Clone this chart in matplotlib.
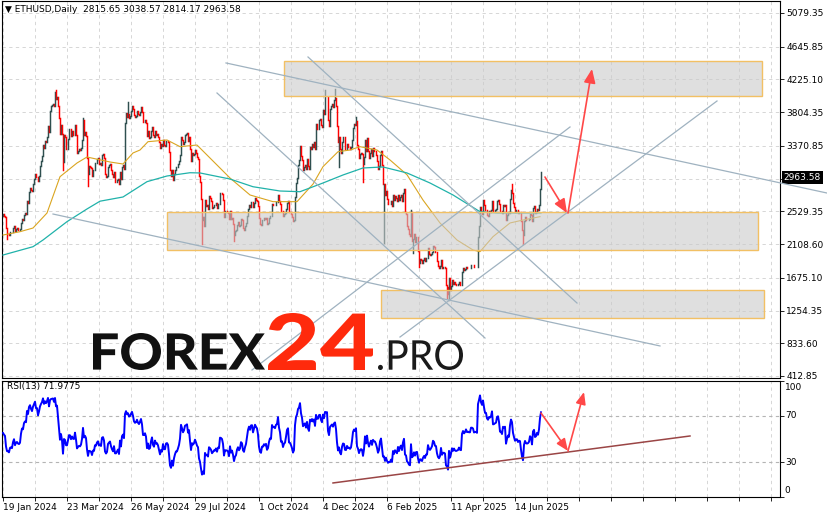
import numpy as np
import matplotlib.pyplot as plt
from matplotlib.patches import Rectangle, PathPatch
from matplotlib.textpath import TextPath
from matplotlib.font_manager import FontProperties
from matplotlib.transforms import Affine2D

W, H = 827, 519

# ETHUSD daily closes; bar 0 = 19 Jan 2024
warmup = [2352, 2355, 2210, 2270, 2268, 2240, 2220, 2330, 2345, 2585, 2615, 2525,
          2575, 2470, 2515, 2585, 2530, 2470]  # 1-18 Jan 2024, only for RSI
c_2024_01 = [2490, 2470, 2455, 2315, 2240, 2235, 2220, 2265, 2270, 2260, 2315, 2345, 2280]
c_2024_02 = [2305, 2310, 2295, 2290, 2300, 2375, 2425, 2420, 2485, 2505,
             2500, 2660, 2640, 2780, 2825, 2800, 2785, 2880, 2945, 3015,
             2970, 2970, 2920, 2990, 3110, 3180, 3240, 3385, 3340]
c_2024_03 = [3435, 3420, 3490, 3630, 3555, 3815, 3880, 3895, 3910, 3880,
             4065, 3980, 4005, 3880, 3735, 3525, 3645, 3520, 3160, 3515,
             3490, 3335, 3330, 3455, 3590, 3585, 3495, 3560, 3510, 3505, 3645]
c_2024_04 = [3505, 3280, 3310, 3330, 3320, 3350, 3450, 3700, 3505, 3545,
             3500, 3220, 3005, 3110, 3100, 3085, 2985, 3065, 3055, 3155,
             3145, 3200, 3220, 3140, 3155, 3130, 3255, 3265, 3215, 3015]
c_2024_05 = [2970, 2990, 3100, 3120, 3135, 3060, 3010, 2975, 3035, 2910,
             2910, 2930, 2950, 2880, 3035, 2945, 3095, 3120, 3070, 3665,
             3790, 3740, 3780, 3730, 3750, 3825, 3890, 3840, 3765, 3745, 3760]
c_2024_06 = [3815, 3780, 3765, 3810, 3865, 3810, 3680, 3680, 3705, 3665,
             3500, 3560, 3470, 3480, 3565, 3620, 3510, 3480, 3560, 3515,
             3520, 3490, 3420, 3350, 3395, 3370, 3450, 3380, 3375, 3435]
c_2024_07 = [3440, 3420, 3295, 3060, 2990, 3065, 2930, 3015, 3065, 3100,
             3100, 3135, 3175, 3255, 3490, 3445, 3390, 3425, 3510, 3520,
             3535, 3440, 3480, 3335, 3175, 3275, 3250, 3270, 3320, 3280, 3230]
c_2024_08 = [3205, 2990, 2905, 2690, 2420, 2460, 2340, 2680, 2600, 2610,
             2555, 2725, 2700, 2660, 2570, 2590, 2615, 2610, 2640, 2575,
             2630, 2620, 2770, 2765, 2750, 2680, 2460, 2530, 2530, 2525, 2510]
c_2024_09 = [2425, 2540, 2425, 2450, 2370, 2225, 2275, 2295, 2360, 2390,
             2340, 2360, 2435, 2420, 2315, 2290, 2340, 2375, 2465, 2560,
             2615, 2580, 2650, 2655, 2580, 2635, 2695, 2675, 2660, 2600]
c_2024_10 = [2450, 2365, 2350, 2415, 2415, 2440, 2425, 2440, 2370, 2385,
             2440, 2475, 2470, 2630, 2610, 2615, 2605, 2645, 2650, 2745,
             2665, 2625, 2530, 2535, 2470, 2500, 2510, 2565, 2640, 2660, 2520]
c_2024_11 = [2515, 2490, 2455, 2400, 2420, 2720, 2895, 2960, 3130, 3185,
             3370, 3245, 3185, 3060, 3100, 3130, 3070, 3205, 3110, 3070,
             3355, 3330, 3395, 3360, 3415, 3325, 3650, 3590, 3590, 3705]
c_2024_12 = [3715, 3645, 3615, 3835, 3785, 4000, 3995, 4000, 3710, 3630,
             3840, 3880, 3910, 3875, 3960, 3985, 3885, 3630, 3420, 3480,
             3330, 3280, 3420, 3490, 3480, 3335, 3330, 3400, 3355, 3360, 3335]
c_2025_01 = [3355, 3450, 3605, 3655, 3635, 3685, 3380, 3325, 3220, 3265,
             3280, 3270, 3135, 3225, 3450, 3305, 3470, 3310, 3215, 3285,
             3335, 3240, 3340, 3310, 3305, 3255, 3180, 3070, 3110, 3250, 3300]
c_2025_02 = [3125, 2875, 2880, 2735, 2785, 2685, 2620, 2630, 2630, 2660,
             2600, 2740, 2675, 2725, 2695, 2665, 2745, 2670, 2720, 2740,
             2665, 2765, 2815, 2515, 2495, 2335, 2300, 2235]
c_2025_03 = [2215, 2520, 2150, 2170, 2240, 2140, 2200, 2205, 2020, 1865,
             1920, 1910, 1865, 1910, 1935, 1885, 1930, 1930, 2055, 1985,
             1965, 1985, 2010, 2080, 2065, 2010, 2005, 1895, 1830, 1805, 1825]
c_2025_04 = [1905, 1795, 1815, 1815, 1805, 1580, 1555, 1470, 1670, 1520,
             1570, 1645, 1595, 1625, 1590, 1580, 1585, 1590, 1615, 1585,
             1580, 1755, 1795, 1770, 1785, 1820, 1795, 1800, 1795, 1795]
c_2025_05 = [1840, 1840, 1835, 1810, 1815, 1815, 1810, 2205, 2345, 2580,
             2515, 2490, 2680, 2610, 2545, 2545, 2485, 2470, 2530, 2525,
             2550, 2665, 2530, 2535, 2550, 2560, 2665, 2680, 2630, 2530, 2530]
c_2025_06 = [2505, 2605, 2595, 2610, 2420, 2480, 2525, 2510, 2685, 2800,
             2770, 2640, 2580, 2525, 2545, 2545, 2510, 2525, 2520, 2410,
             2295, 2225, 2400, 2455, 2420, 2415, 2420, 2435, 2500, 2485]
c_2025_07 = [2405, 2570, 2595, 2510, 2520, 2565, 2545, 2615, 2815.65, 2963.58]

# notable wicks (bar -> price)
wick_low = {4: 2170, 60: 3060, 85: 2850, 199: 2110, 231: 2150, 336: 3100, 360: 2910,
            381: 2120, 410: 1990, 416: 1810, 444: 1410, 446: 1385, 520: 2110, 538: 2814.17}
wick_high = {53: 4090, 80: 3730, 125: 3940, 322: 4085, 332: 4107, 353: 3745,
             408: 2550, 509: 2880, 538: 3038.57}

# moving averages (bar, price)
ma_fast_bar = [0, 17, 30, 44, 57, 74, 84, 107, 120, 130, 137, 145, 164, 177, 194, 207, 227,
               247, 270, 294, 310, 320, 335, 347, 357, 374, 387, 404, 420, 437, 454, 470,
               477, 490, 507, 520, 537]
ma_fast = [2225, 2268, 2315, 2508, 2975, 3151, 3228, 3164, 3138, 3280, 3318, 3425, 3447,
           3361, 3382, 3215, 2958, 2740, 2654, 2654, 2880, 3104, 3296, 3318, 3361, 3318,
           3190, 3000, 2675, 2380, 2161, 2033, 2011, 2204, 2380, 2418, 2461]
ma_slow_bar = [0, 30, 40, 64, 84, 97, 120, 144, 164, 187, 197, 227, 250, 277, 297, 320,
               340, 360, 380, 404, 427, 450, 477, 494, 538]
ma_slow = [1968, 2075, 2161, 2397, 2560, 2660, 2714, 2911, 2984, 3026, 3023, 2945, 2846,
           2791, 2782, 2894, 2997, 3087, 3100, 3023, 2894, 2740, 2525, 2508, 2508]

price_ticks = [5079.35, 4645.85, 4225.10, 3804.35, 3370.85, 2950.10, 2529.35,
               2108.60, 1675.10, 1254.35, 833.60, 412.85]
date_labels = ['19 Jan 2024', '23 Mar 2024', '26 May 2024', '29 Jul 2024', '1 Oct 2024',
               '4 Dec 2024', '6 Feb 2025', '11 Apr 2025', '14 Jun 2025']

# zones: (bar0, bar1, price_lo, price_hi)
zones = [(281, 759, 4012, 4462), (164, 755, 2033, 2521), (378, 761, 1159, 1518)]
# trend lines: ((bar, price), (bar, price))
trend_lines = [((223, 4437), (824, 2765)), ((50, 2495), (657, 799)),
               ((305, 4514), (574, 1351)), ((214, 4051), (482, 901)),
               ((249, 490), (567, 3614)), ((397, 914), (714, 3948))]
arrows = [((542, 2971), (564, 2508)), ((565, 2508), (589, 4360))]
rsi_line = ((330, 12.1), (687, 52.6))
rsi_arrows = [((538, 72.4), (565, 39.7)), ((565, 39.7), (581, 90.5))]

closes = (c_2024_01 + c_2024_02 + c_2024_03 + c_2024_04 + c_2024_05 + c_2024_06 +
          c_2024_07 + c_2024_08 + c_2024_09 + c_2024_10 + c_2024_11 + c_2024_12 +
          c_2025_01 + c_2025_02 + c_2025_03 + c_2025_04 + c_2025_05 + c_2025_06 + c_2025_07)
closes = np.array(closes, float)
opens = np.concatenate([[warmup[-1]], closes[:-1]])
bars = np.arange(len(closes))
lows = np.minimum(opens, closes)
highs = np.maximum(opens, closes)
for b, v in wick_low.items():
    lows[b] = min(lows[b], v)
for b, v in wick_high.items():
    highs[b] = max(highs[b], v)

# RSI(13), Wilder smoothing
allc = np.array(warmup + list(closes), float)
d = np.diff(allc)
gain, loss = np.clip(d, 0, None), np.clip(-d, 0, None)
n = 13
ag, al = gain[:n].mean(), loss[:n].mean()
rsi_all = [np.nan] * (n + 1)
rsi_all[-1] = 100 - 100 / (1 + ag / al)
for k in range(n, len(d)):
    ag = (ag * (n - 1) + gain[k]) / n
    al = (al * (n - 1) + loss[k]) / n
    rsi_all.append(100 - 100 / (1 + ag / al))
rsi = np.array(rsi_all[len(warmup):])

plt.rcParams['font.family'] = 'DejaVu Sans'
fs = 6.5
fig = plt.figure(figsize=(W / 100, H / 100), dpi=100)


def frac(x0, y0, x1, y1):
    return [x0 / W, 1 - y1 / H, (x1 - x0) / W, (y1 - y0) / H]


ax = fig.add_axes(frac(2, 1, 780, 378))
ar = fig.add_axes(frac(2, 381, 780, 497))
xt = np.arange(0, 777, 32)
grid_kw = dict(color='#d0d0d0', ls=(0, (4, 4)), lw=0.6)

for a in (ax, ar):
    a.set_xlim(-1, 777)
    for s in a.spines.values():
        s.set_linewidth(0.8)
        s.set_color('black')
    a.set_xticks(xt)
    a.set_axisbelow(True)

# main panel
ax.set_ylim(387.1, 5233.6)
ax.yaxis.tick_right()
ax.set_yticks(price_ticks)
ax.set_yticklabels(['' if abs(v - 2950.10) < 1 else '%.2f' % v for v in price_ticks])
ax.tick_params(axis='y', direction='out', length=3, width=0.6, labelsize=fs, pad=1.5)
ax.tick_params(axis='x', length=0, labelbottom=False)
ax.grid(True, **grid_kw)

bull = closes >= opens
ax.vlines(bars, lows, highs, colors=np.where(bull, '#2f4f4f', '#ff0000'),
          lw=1.05, zorder=3, capstyle='projecting')
ax.plot(ma_fast_bar, ma_fast, color='#daa520', lw=0.8, zorder=4)
ax.plot(ma_slow_bar, ma_slow, color='#20b2aa', lw=0.9, zorder=4)

for b0, b1, p0, p1 in zones:
    ax.add_patch(Rectangle((b0, p0), b1 - b0, p1 - p0, fc='#cbcbcb', alpha=0.6,
                           ec='none', zorder=5))
    ax.add_patch(Rectangle((b0, p0), b1 - b0, p1 - p0, fc='none', ec='#f2c064',
                           lw=1.0, zorder=5))

for (b0, p0), (b1, p1) in trend_lines:
    ax.plot([b0, b1], [p0, p1], color='#9fb2c0', lw=0.9, zorder=6, clip_on=False)

ahead = '-|>,head_length=0.6,head_width=0.25'
for (b0, p0), (b1, p1) in arrows:
    ax.annotate('', xy=(b1, p1), xytext=(b0, p0),
                arrowprops=dict(arrowstyle=ahead, color='#ff4848', lw=1.2,
                                mutation_scale=14, shrinkA=0, shrinkB=0), zorder=7)

ax.annotate('%.2f' % closes[-1], xy=(1, closes[-1]), xycoords=ax.get_yaxis_transform(),
            xytext=(2.5, 0), textcoords='offset points', va='center', ha='left',
            fontsize=fs, color='white',
            bbox=dict(boxstyle='square,pad=0.2', fc='black', ec='none'))

ax.text(3 / 778, 1 - 8 / 377, '\u25bc ETHUSD,Daily  2815.65 3038.57 2814.17 2963.58',
        transform=ax.transAxes, fontsize=fs, va='center', ha='left')

# RSI panel
ar.set_ylim(0, 100)
ar.yaxis.tick_right()
ar.set_yticks([0, 30, 70, 100])
ar.set_yticklabels([])
ar.tick_params(axis='y', direction='out', length=3, width=0.6)
for v, s in [(94.8, '100'), (70, '70'), (30, '30'), (5.2, '0')]:
    ar.annotate(s, xy=(1, v), xycoords=ar.get_yaxis_transform(), xytext=(3.5, 0),
                textcoords='offset points', va='center', ha='left', fontsize=fs)
ar.set_xticklabels([date_labels[i // 2] if i % 2 == 0 and i // 2 < len(date_labels) else ''
                    for i in range(len(xt))])
ar.tick_params(axis='x', direction='out', length=3, width=0.6, labelsize=fs, pad=1.5)
for lab in ar.get_xticklabels():
    lab.set_ha('left')
ar.grid(True, axis='x', **grid_kw)
for v in (70, 30):
    ar.axhline(v, color='#b4b4b4', ls=(0, (3, 3)), lw=0.8, zorder=1)

ar.plot(bars, rsi, color='#0000ff', lw=1.4, zorder=3)
(b0, v0), (b1, v1) = rsi_line
ar.plot([b0, b1], [v0, v1], color='#9a4545', lw=1.1, zorder=4)
for (b0, v0), (b1, v1) in rsi_arrows:
    ar.annotate('', xy=(b1, v1), xytext=(b0, v0),
                arrowprops=dict(arrowstyle=ahead, color='#ff4848', lw=1.2,
                                mutation_scale=12, shrinkA=0, shrinkB=0), zorder=5)
ar.text(5 / 778, 1 - 6 / 116, 'RSI(13) %.4f' % 71.9775, transform=ar.transAxes,
        fontsize=fs, va='center', ha='left')

# logo overlay in pixel coordinates
ov = fig.add_axes([0, 0, 1, 1])
ov.set_xlim(0, W)
ov.set_ylim(H, 0)
ov.axis('off')
ov.patch.set_alpha(0)


def logo_word(text, fp, box, color):
    x0, y0, x1, y1 = box
    tp = TextPath((0, 0), text, size=100, prop=fp)
    e = tp.get_extents()
    tr = (Affine2D().translate(-e.x0, -e.y0)
          .scale((x1 - x0) / e.width, -(y1 - y0) / e.height).translate(x0, y1))
    ov.add_patch(PathPatch(tr.transform_path(tp), fc=color, ec='none'))


logo_word('FOREX', FontProperties(family='Lato', weight='black'), (93, 333, 265, 370), '#111111')
logo_word('24', FontProperties(family='Lato', weight='black'), (268, 313, 373, 370), '#ff2a0c')
logo_word('.PRO', FontProperties(family='Lato', weight='normal'), (378, 340, 463, 370), '#1a1a1a')

fig.savefig('out.png', dpi=100)
